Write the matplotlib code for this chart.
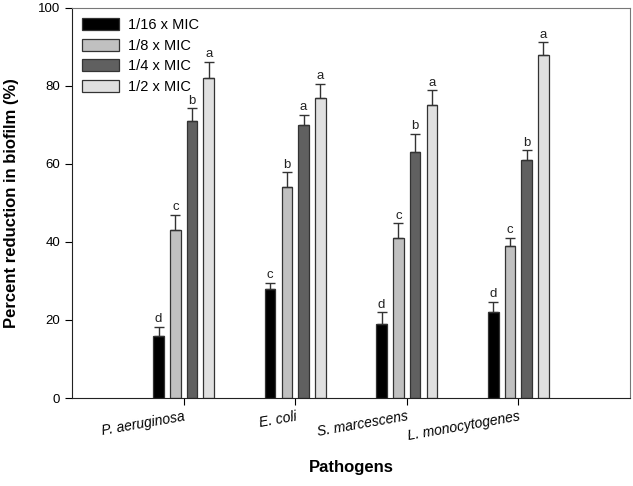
import numpy as np
import matplotlib.pyplot as plt

plt.rcParams['font.family'] = ['Liberation Sans', 'DejaVu Sans']

pathogens = ['P. aeruginosa', 'E. coli', 'S. marcescens', 'L. monocytogenes']
doses = ['1/16 x MIC', '1/8 x MIC', '1/4 x MIC', '1/2 x MIC']

# percent reduction, one list per dose (order of pathogens)
mic_16 = [16, 28, 19, 22]
mic_8 = [43, 54, 41, 39]
mic_4 = [71, 70, 63, 61]
mic_2 = [82, 77, 75, 88]

err_16 = [2.3, 1.5, 3.0, 2.7]
err_8 = [4.0, 3.8, 3.8, 2.0]
err_4 = [3.2, 2.6, 4.7, 2.5]
err_2 = [4.2, 3.5, 3.9, 3.2]

let_16 = ['d', 'c', 'd', 'd']
let_8 = ['c', 'b', 'c', 'c']
let_4 = ['b', 'a', 'b', 'b']
let_2 = ['a', 'a', 'a', 'a']

values = [mic_16, mic_8, mic_4, mic_2]
errors = [err_16, err_8, err_4, err_2]
letters = [let_16, let_8, let_4, let_2]
colors = ['#000000', '#c0c0c0', '#606060', '#e0e0e0']

fig = plt.figure(figsize=(6.33, 4.86), dpi=100)
ax = fig.add_axes([0.114, 0.181, 0.881, 0.803])

x = np.arange(1, len(pathogens) + 1)
width = 0.095
step = 0.15
offsets = (np.arange(4) - 1.5) * step

for i in range(4):
    xs = x + offsets[i]
    ax.bar(xs, values[i], width, color=colors[i], edgecolor='#333333',
           linewidth=0.9, label=doses[i], zorder=2)
    ax.errorbar(xs, values[i], yerr=[np.zeros(4), errors[i]], fmt='none',
                ecolor='#333333', elinewidth=1.0, capsize=3.5, capthick=1.0, zorder=3)
    for j in range(4):
        ax.text(xs[j], values[i][j] + errors[i][j] + 0.4, letters[i][j],
                ha='center', va='bottom', fontsize=9.5, color='#222222')

ax.set_xlim(0, 5)
ax.set_ylim(0, 100)
ax.set_yticks([0, 20, 40, 60, 80, 100])
ax.set_xticks(x)
ax.set_xticklabels(pathogens, rotation=10, ha='right', rotation_mode='anchor',
                   fontstyle='italic', fontsize=10)
ax.tick_params(axis='y', labelsize=9.5, direction='out', length=5)
ax.tick_params(axis='x', direction='out', length=5, pad=3)

for s in ['top', 'right']:
    ax.spines[s].set_color('#777777')
for s in ['left', 'bottom']:
    ax.spines[s].set_color('#222222')

ax.set_ylabel('Percent reduction in biofilm (%)', fontsize=12, fontweight='bold')
ax.yaxis.set_label_coords(-0.095, 0.5)
ax.set_xlabel('Pathogens', fontsize=12, fontweight='bold')
ax.xaxis.set_label_coords(0.5, -0.16)

ax.legend(loc='upper left', frameon=False, fontsize=10.5, handlelength=2.5,
          handleheight=0.9, handletextpad=0.6, labelspacing=0.45,
          borderaxespad=0.3, bbox_to_anchor=(0.0, 1.0))

fig.savefig('out.png', dpi=100)
